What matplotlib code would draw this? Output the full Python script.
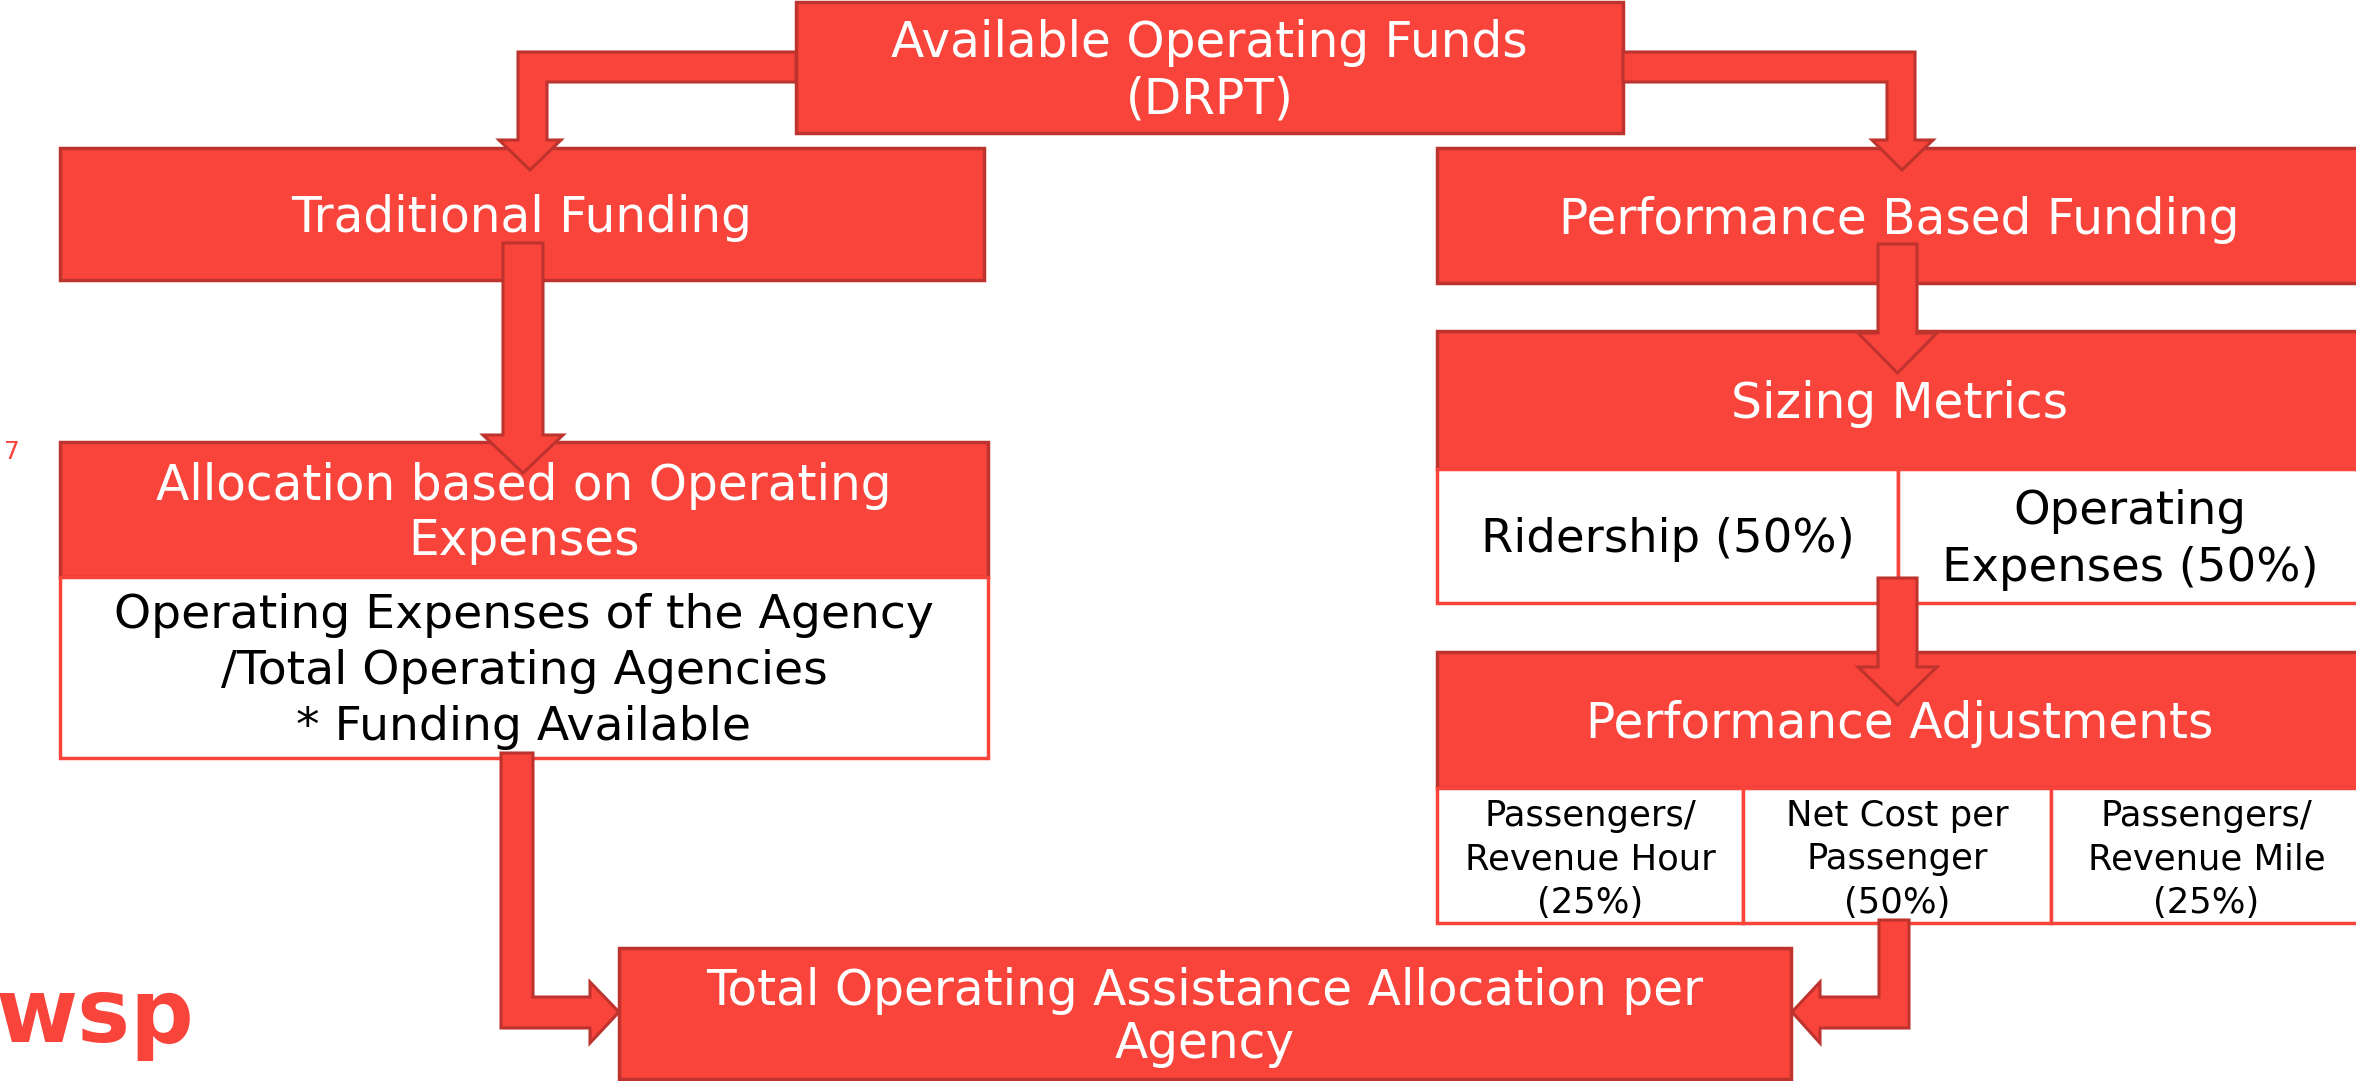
import matplotlib
matplotlib.use('Agg')
import matplotlib.pyplot as plt
from matplotlib.patches import Rectangle, Polygon

# ---- diagram content ----
topLabel      = "Available Operating Funds\n(DRPT)"
tradLabel     = "Traditional Funding"
pbfLabel      = "Performance Based Funding"
allocHeader   = "Allocation based on Operating\nExpenses"
allocBody     = "Operating Expenses of the Agency\n/Total Operating Agencies\n* Funding Available"
sizingHeader  = "Sizing Metrics"
sizingCells   = ["Ridership (50%)", "Operating\nExpenses (50%)"]
perfHeader    = "Performance Adjustments"
perfCells     = ["Passengers/\nRevenue Hour\n(25%)", "Net Cost per\nPassenger\n(50%)",
                 "Passengers/\nRevenue Mile\n(25%)"]
totalLabel    = "Total Operating Assistance Allocation per\nAgency"
pageNumber    = "7"
logoText      = "wsp"

RED  = '#F9443C'
DARK = '#BE332D'
FONT = 'DejaVu Sans'
DY   = 4   # text sits a little below the box centre

W, H = 2356, 1081
fig = plt.figure(figsize=(W/100, H/100), dpi=100)
ax = fig.add_axes([0, 0, 1, 1])
ax.set_xlim(0, W)
ax.set_ylim(H, 0)
ax.axis('off')


def redBox(x0, y0, x1, y1, text, size=35, spacing=1.2):
    ax.add_patch(Rectangle((x0, y0), x1-x0, y1-y0, facecolor=RED, edgecolor=DARK,
                           linewidth=2.5, zorder=2))
    ax.text((x0+x1)/2, (y0+y1)/2 + DY, text, color='white', fontsize=size, family=FONT,
            ha='center', va='center', linespacing=spacing, zorder=5)


def whiteBox(x0, y0, x1, y1, text, size=34, spacing=1.25):
    ax.add_patch(Rectangle((x0, y0), x1-x0, y1-y0, facecolor='white', edgecolor=RED,
                           linewidth=2.5, zorder=2))
    ax.text((x0+x1)/2, (y0+y1)/2 + DY, text, color='black', fontsize=size, family=FONT,
            ha='center', va='center', linespacing=spacing, zorder=5)


def arrow(points):
    ax.add_patch(Polygon(points, closed=True, facecolor=RED, edgecolor=DARK,
                         linewidth=2.2, joinstyle='miter', zorder=4))


def downArrow(x0, x1, yTop, yHead, hx0, hx1, yTip):
    arrow([(x0, yTop), (x1, yTop), (x1, yHead), (hx1, yHead), ((hx0+hx1)/2, yTip),
           (hx0, yHead), (x0, yHead)])


# ---- boxes ----
redBox(796, 2, 1623, 133, topLabel, spacing=1.22)
redBox(60, 148, 984, 280, tradLabel)
redBox(1437, 148, 2362, 283, pbfLabel)

redBox(60, 442, 988, 577, allocHeader, spacing=1.17)
whiteBox(60, 577, 988, 758, allocBody, size=34, spacing=1.3)

redBox(1437, 331, 2362, 469, sizingHeader)
sizeX = [1437, 1898, 2362]
for i, t in enumerate(sizingCells):
    whiteBox(sizeX[i], 469, sizeX[i+1], 603, t, size=33.5, spacing=1.33)

redBox(1437, 652, 2362, 788, perfHeader)
perfX = [1437, 1743, 2051, 2362]
for i, t in enumerate(perfCells):
    whiteBox(perfX[i], 788, perfX[i+1], 923, t, size=25.5, spacing=1.36)

redBox(619, 948, 1791, 1079, totalLabel, spacing=1.14)

# ---- arrows ----
arrow([(796, 52), (518, 52), (518, 140), (499, 140), (530, 170), (561, 140),
       (547, 140), (547, 82), (796, 82)])
arrow([(1623, 52), (1915, 52), (1915, 140), (1933, 140), (1902, 170), (1872, 140),
       (1887, 140), (1887, 82), (1623, 82)])
downArrow(503, 543, 243, 435, 483, 563, 473)
downArrow(1878, 1917, 244, 333, 1858, 1937, 373)
downArrow(1878, 1917, 578, 667, 1858, 1937, 705)
arrow([(501, 753), (533, 753), (533, 997), (590, 997), (590, 982), (619, 1012),
       (590, 1043), (590, 1028), (501, 1028)])
arrow([(1909, 920), (1909, 1028), (1820, 1028), (1820, 1043), (1792, 1012),
       (1820, 982), (1820, 997), (1879, 997), (1879, 920)])

# ---- page number and logo ----
ax.text(4, 452, pageNumber, color=RED, fontsize=18, family=FONT, ha='left', va='center')
ax.text(-4, 1042, logoText, color=RED, fontsize=64, family=FONT, fontweight='bold',
        ha='left', va='baseline')

fig.savefig('out.png', dpi=100)
